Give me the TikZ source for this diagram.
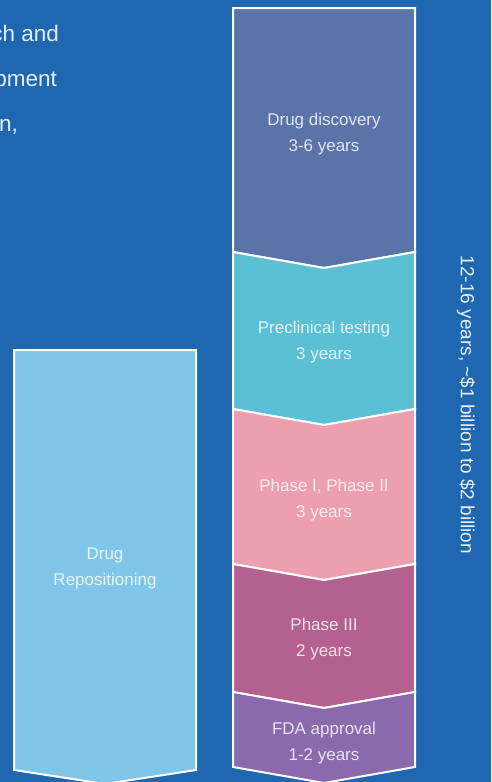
\documentclass[tikz,border=0pt]{standalone}
\usepackage{fontspec}
\setmainfont{Liberation Sans}
\definecolor{mbg}{RGB}{31,103,177}
\definecolor{mslate}{RGB}{90,115,168}
\definecolor{mcyan}{RGB}{91,192,212}
\definecolor{mpink}{RGB}{238,159,175}
\definecolor{mplum}{RGB}{180,97,143}
\definecolor{mviolet}{RGB}{138,105,172}
\definecolor{msky}{RGB}{127,198,233}
\tikzset{
  stage/.style={draw=white, line width=2pt},
  lbl/.style={text=white, text opacity=0.82, align=center, font=\fontsize{17}{26}\selectfont},
  para/.style={anchor=base east, text=white!88!mbg, font=\fontsize{22.5}{27}\selectfont}
}

\begin{document}
\begin{tikzpicture}[y=1pt, x=1pt, yscale=-1, inner sep=0pt, outer sep=0pt]

% background
\fill[mbg] (0,0) rectangle (491,782);
\useasboundingbox (0,0) rectangle (491,782);
\clip (0,0) rectangle (491,782);

% paragraph cut off at the left
\node[para] (para1) at (59,41)  {ch and};
\node[para] (para2) at (57,86)  {pment};
\node[para] (para3) at (18,131) {n,};

% drug discovery
\draw[stage, fill=mslate] (233,8) -- (415,8) -- (415,252) -- (324,268)
  -- (233,252) -- cycle;

% preclinical testing
\draw[stage, fill=mcyan] (233,252) -- (324,268) -- (415,252) -- (415,409)
  -- (324,425) -- (233,409) -- cycle;

% phase I, phase II
\draw[stage, fill=mpink] (233,409) -- (324,425) -- (415,409) -- (415,564)
  -- (324,580) -- (233,564) -- cycle;

% phase III
\draw[stage, fill=mplum] (233,564) -- (324,580) -- (415,564) -- (415,692)
  -- (324,708) -- (233,692) -- cycle;

% fda approval
\draw[stage, fill=mviolet] (233,692) -- (324,708) -- (415,692) -- (415,767)
  -- (324,783) -- (233,767) -- cycle;

% repositioning
\draw[stage, fill=msky] (14,350) -- (196,350) -- (196,770) -- (105,784)
  -- (14,770) -- cycle;

\node[lbl] (disc)  at (324,134)   {Drug discovery\\3-6 years};
\node[lbl] (precl) at (324,342.5) {Preclinical testing\\3 years};
\node[lbl] (ph12)  at (324,500.5) {Phase I, Phase II\\3 years};
\node[lbl] (ph3)   at (324,639)   {Phase III\\2 years};
\node[lbl] (fda)   at (324,743)   {FDA approval\\1-2 years};
\node[lbl] (repo)  at (105,568)   {Drug\\Repositioning};
\node[lbl, rotate=-90, text opacity=0.9, font=\fontsize{19}{24}\selectfont] (cost) at (466,405)
  {12-16 years, \textasciitilde\$1 billion to \$2 billion};

\end{tikzpicture}
\end{document}
